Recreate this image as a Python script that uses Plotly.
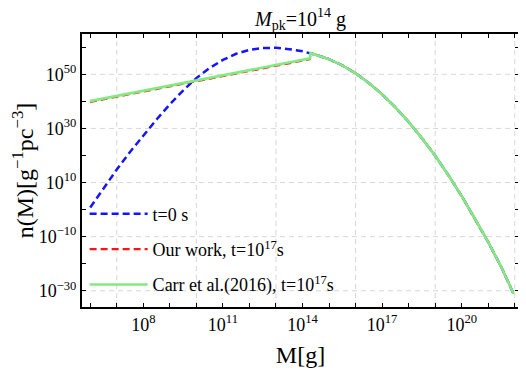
import plotly.graph_objects as go

# log10(M [g]) sample points
logM_t0 = [6.0, 6.5, 7.0, 7.5, 8.0, 8.5, 9.0, 9.5, 10.0, 10.5, 11.0, 11.5, 12.0, 12.5,
           13.0, 13.5, 14.0, 14.5, 15.0, 15.5, 16.0, 16.5, 17.0, 17.5, 18.0, 18.5,
           19.0, 19.5, 20.0, 20.5, 21.0, 21.5, 21.95]
# log10(n(M)) for t = 0 s
logn_t0 = [0.8, 7.8, 14.8, 21.3, 27.5, 33.3, 38.9, 44.0, 48.6, 52.3, 55.3, 57.6, 59.0, 59.7,
           59.8, 59.3, 58.5, 57.2, 55.6, 53.3, 50.4, 46.8, 42.6, 37.8, 32.4, 26.4,
           19.9, 12.7, 5.0, -3.4, -12.0, -21.4, -31.0]

# Our work and Carr et al. (2016), t = 1e17 s
logM_late = [5.99, 8.0, 10.0, 12.0, 14.28, 14.3, 14.5, 15.0, 15.5, 16.0, 16.5, 17.0, 17.5,
             18.0, 18.5, 19.0, 19.5, 20.0, 20.5, 21.0, 21.5, 21.95]
logn_ours = [39.8, 43.7, 47.5, 51.3, 55.6, 57.9, 57.2, 55.6, 53.3, 50.4, 46.8, 42.6, 37.8,
             32.4, 26.4, 19.9, 12.7, 5.0, -3.4, -12.0, -21.4, -31.0]
logn_carr = [40.1, 44.0, 47.8, 51.6, 55.9, 57.9, 57.2, 55.6, 53.3, 50.4, 46.8, 42.6, 37.8,
             32.4, 26.4, 19.9, 12.7, 5.0, -3.4, -12.0, -21.4, -31.0]

# axis ticks
x_tick_exps = list(range(6, 23))
x_label_exps = [8, 11, 14, 17, 20]
x_grid_exps = [7, 10, 13, 16, 19, 22]
y_tick_exps = [-30, -20, -10, 0, 10, 20, 30, 40, 50, 60]
y_label_exps = [-30, -10, 10, 30, 50]


def p10(e):
    return 10.0 ** e


def sup(e):
    s = str(e).replace('-', '\u2212')
    return f"10<sup>{s}</sup>"


FONT = "Liberation Serif"

fig = go.Figure()
fig.add_trace(go.Scatter(
    x=[p10(v) for v in logM_t0], y=[p10(v) for v in logn_t0], mode="lines",
    name="t=0 s", legendgroup="a",
    line=dict(color="rgb(20,20,255)", width=2.5, dash="7px,4px")))
fig.add_trace(go.Scatter(
    x=[p10(v) for v in logM_late], y=[p10(v) for v in logn_ours], mode="lines",
    name="Our work, t=10<sup>17</sup>s", legendgroup="b",
    line=dict(color="rgb(255,20,20)", width=2.2, dash="7px,4px")))
fig.add_trace(go.Scatter(
    x=[p10(v) for v in logM_late], y=[p10(v) for v in logn_carr], mode="lines",
    name="Carr et al.(2016), t=10<sup>17</sup>s", legendgroup="c",
    line=dict(color="rgb(128,235,128)", width=2.6)))

shapes = []
for e in x_grid_exps:
    shapes.append(dict(type="line", xref="x", yref="paper", x0=p10(e), x1=p10(e), y0=0, y1=1,
                       line=dict(color="rgb(215,215,215)", width=1, dash="5px,4px"), layer="below"))
for e in y_label_exps:
    shapes.append(dict(type="line", xref="paper", yref="y", x0=0, x1=1, y0=p10(e), y1=p10(e),
                       line=dict(color="rgb(215,215,215)", width=1, dash="5px,4px"), layer="below"))

fig.update_layout(
    width=518, height=365,
    margin=dict(l=74, r=7, t=26, b=66, autoexpand=False),
    paper_bgcolor="white", plot_bgcolor="white",
    font=dict(family=FONT, color="black", size=18),
    title=dict(text="<i>M</i><sub>pk</sub>=10<sup>14</sup> g", x=0.5, xref="paper",
               xanchor="center", y=0.971, yanchor="middle", font=dict(size=20)),
    shapes=shapes,
    showlegend=True,
    legend=dict(x=0.006, y=0.013, xanchor="left", yanchor="bottom", bgcolor="rgba(0,0,0,0)",
                font=dict(size=18), itemwidth=58, tracegroupgap=9),
    xaxis=dict(type="log", range=[5.69, 22.16], automargin=False,
               tickvals=[p10(e) for e in x_tick_exps],
               ticktext=[sup(e) if e in x_label_exps else "" for e in x_tick_exps],
               ticks="inside", ticklen=4, tickwidth=1.3, tickcolor="black",
               showline=True, linecolor="black", linewidth=2, mirror="ticks",
               showgrid=False, zeroline=False, tickfont=dict(size=18),
               title=dict(text="M[g]", font=dict(size=24), standoff=13)),
    yaxis=dict(type="log", range=[-36.0, 64.9], automargin=False,
               tickvals=[p10(e) for e in y_tick_exps],
               ticktext=[sup(e) if e in y_label_exps else "" for e in y_tick_exps],
               ticks="inside", ticklen=4, tickwidth=1.3, tickcolor="black",
               showline=True, linecolor="black", linewidth=2, mirror="ticks",
               showgrid=False, zeroline=False, tickfont=dict(size=18),
               title=dict(text="n(M)[g<sup>\u22121</sup>pc<sup>\u22123</sup>]", font=dict(size=24),
                          standoff=4)),
)

fig.write_html("out.html")
